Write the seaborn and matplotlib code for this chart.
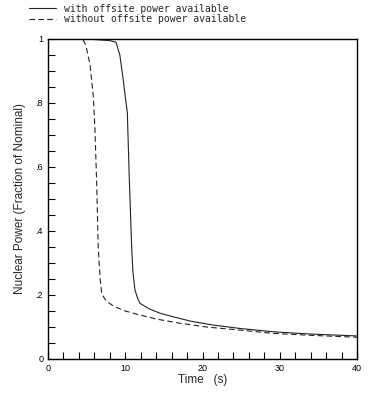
import matplotlib
matplotlib.use("Agg")
import matplotlib.pyplot as plt
import seaborn as sns
import pandas as pd
from matplotlib.ticker import MultipleLocator, FuncFormatter
from matplotlib.lines import Line2D

sns.set_theme(style="ticks")
plt.rcParams['font.family'] = ['Liberation Sans', 'DejaVu Sans']

series_names = ["with offsite power available", "without offsite power available"]

t_with = [0, 5, 8, 8.8, 9.3, 9.75, 10.0, 10.27, 10.5, 10.83, 11.0, 11.26, 11.6, 11.9,
          13, 14.5, 16.2, 18.5, 21.4, 25, 29.2, 34, 40]
p_with = [1.0, 1.0, 0.995, 0.99, 0.95, 0.87, 0.82, 0.77, 0.58, 0.35, 0.27, 0.215, 0.19, 0.174,
          0.158, 0.143, 0.132, 0.118, 0.106, 0.095, 0.085, 0.078, 0.072]

t_without = [0, 4.5, 4.9, 5.44, 5.87, 6.08, 6.3, 6.5, 6.75, 6.95, 7.3, 7.6, 8.5, 10,
             11.9, 14, 17, 20.5, 25, 29.2, 34, 40]
p_without = [1.0, 1.0, 0.98, 0.92, 0.82, 0.716, 0.55, 0.35, 0.25, 0.205, 0.19, 0.18, 0.165, 0.15,
             0.1375, 0.125, 0.112, 0.10, 0.09, 0.08, 0.074, 0.068]

df = pd.concat([
    pd.DataFrame({"Time": t_with, "Power": p_with, "Case": series_names[0]}),
    pd.DataFrame({"Time": t_without, "Power": p_without, "Case": series_names[1]}),
])

fig = plt.figure(figsize=(3.82, 3.96), dpi=100)
ax = fig.add_axes([48/382, 37/396, 309/382, 320/396])

sns.lineplot(data=df, x="Time", y="Power", style="Case", ax=ax,
             dashes={series_names[0]: "", series_names[1]: (5, 3)},
             color="#222222", linewidth=0.8, legend=False, sort=False,
             estimator=None)

ax.set_xlim(0, 40)
ax.set_ylim(0, 1)
ax.xaxis.set_major_locator(MultipleLocator(10))
ax.xaxis.set_minor_locator(MultipleLocator(2))
ax.yaxis.set_major_locator(MultipleLocator(0.2))
ax.yaxis.set_minor_locator(MultipleLocator(0.05))

def yfmt(v, pos):
    if abs(v) < 1e-9:
        return "0"
    if abs(v - 1) < 1e-9:
        return "1"
    return ("%.1f" % v).lstrip("0")

ax.yaxis.set_major_formatter(FuncFormatter(yfmt))
ax.tick_params(axis="both", which="both", direction="in", colors="black",
               labelsize=6.5, width=0.8)
ax.tick_params(which="major", length=5)
ax.tick_params(which="minor", length=5)
ax.tick_params(top=False, right=False)
for s in ax.spines.values():
    s.set_linewidth(1.0)
    s.set_color("black")
    s.set_visible(True)

ax.set_xlabel("Time   (s)", fontsize=8.5, labelpad=1)
ax.set_ylabel("Nuclear Power (Fraction of Nominal)", fontsize=8.5, labelpad=7)

handles = [Line2D([], [], color="#222222", lw=0.8),
           Line2D([], [], color="#222222", lw=0.8, dashes=(5, 3))]
fig.legend(handles, series_names, loc="upper left", bbox_to_anchor=(25/382, 1.0),
           frameon=False, handlelength=2.8, handletextpad=0.8,
           labelspacing=0.05, borderaxespad=0.0,
           prop={"family": "DejaVu Sans Mono", "size": 7})

fig.savefig("out.png", dpi=100)
